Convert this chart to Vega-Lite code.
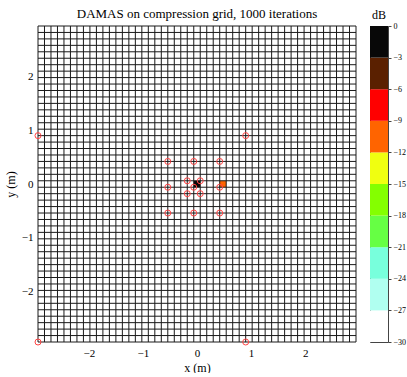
{
  "$schema": "https://vega.github.io/schema/vega-lite/v6.json",
  "padding": {"left": 4, "top": 7, "right": 0, "bottom": 0},
  "background": "white",
  "config": {
    "view": {"stroke": null},
    "font": "Liberation Serif",
    "axis": {
      "labelFont": "Liberation Serif",
      "titleFont": "Liberation Serif",
      "labelFontSize": 11,
      "titleFontSize": 12,
      "titleFontWeight": "normal",
      "labelColor": "black",
      "titleColor": "black",
      "grid": false,
      "domain": false,
      "ticks": false,
      "labelPadding": 5
    },
    "title": {"font": "Liberation Serif", "fontWeight": "normal", "color": "black", "anchor": "middle"}
  },
  "datasets": {
    "grid": [
      {"v": -2.94}, {"v": -2.82}, {"v": -2.7}, {"v": -2.58}, {"v": -2.46}, {"v": -2.34}, {"v": -2.22}, {"v": -2.1}, {"v": -1.98}, {"v": -1.86},
      {"v": -1.74}, {"v": -1.62}, {"v": -1.5}, {"v": -1.38}, {"v": -1.26}, {"v": -1.14}, {"v": -1.02}, {"v": -0.9}, {"v": -0.78}, {"v": -0.66},
      {"v": -0.54}, {"v": -0.42}, {"v": -0.3}, {"v": -0.18}, {"v": -0.06}, {"v": 0.06}, {"v": 0.18}, {"v": 0.3}, {"v": 0.42}, {"v": 0.54},
      {"v": 0.66}, {"v": 0.78}, {"v": 0.9}, {"v": 1.02}, {"v": 1.14}, {"v": 1.26}, {"v": 1.38}, {"v": 1.5}, {"v": 1.62}, {"v": 1.74},
      {"v": 1.86}, {"v": 1.98}, {"v": 2.1}, {"v": 2.22}, {"v": 2.34}, {"v": 2.46}, {"v": 2.58}, {"v": 2.7}, {"v": 2.82}, {"v": 2.94}
    ],
    "cells": [
      {"x": -0.06, "x2": 0.06, "y": -0.06, "y2": 0.06, "db": -1},
      {"x": 0.42, "x2": 0.54, "y": -0.06, "y2": 0.06, "db": -10.5}
    ],
    "mics": [
      {"x": -0.54, "y": 0.42}, {"x": -0.06, "y": 0.42}, {"x": 0.42, "y": 0.42},
      {"x": -0.54, "y": -0.06}, {"x": -0.06, "y": -0.06}, {"x": 0.42, "y": -0.06},
      {"x": -0.54, "y": -0.54}, {"x": -0.06, "y": -0.54}, {"x": 0.42, "y": -0.54},
      {"x": -0.18, "y": 0.06}, {"x": 0.06, "y": 0.06}, {"x": -0.18, "y": -0.18}, {"x": 0.06, "y": -0.18},
      {"x": -2.94, "y": 0.9}, {"x": 0.9, "y": 0.9}, {"x": -2.94, "y": -2.94}, {"x": 0.9, "y": -2.94}
    ],
    "bar": [
      {"lo": -30, "hi": -27, "db": -28.5}, {"lo": -27, "hi": -24, "db": -25.5}, {"lo": -24, "hi": -21, "db": -22.5},
      {"lo": -21, "hi": -18, "db": -19.5}, {"lo": -18, "hi": -15, "db": -16.5}, {"lo": -15, "hi": -12, "db": -13.5},
      {"lo": -12, "hi": -9, "db": -10.5}, {"lo": -9, "hi": -6, "db": -7.5}, {"lo": -6, "hi": -3, "db": -4.5},
      {"lo": -3, "hi": 0, "db": -1.5}
    ]
  },
  "spacing": 12,
  "hconcat": [
    {
      "width": 318,
      "height": 316,
      "title": {"text": "DAMAS on compression grid, 1000 iterations", "fontSize": 13, "offset": 5},
      "layer": [
        {
          "data": {"name": "cells"},
          "mark": {"type": "rect"},
          "encoding": {
            "x": {"field": "x", "type": "quantitative", "title": "x (m)", "scale": {"domain": [-2.94, 2.94], "nice": false, "zero": false}, "axis": {"values": [-2, -1, 0, 1, 2]}},
            "x2": {"field": "x2"},
            "y": {"field": "y", "type": "quantitative", "title": "y (m)", "scale": {"domain": [-2.94, 2.94], "nice": false, "zero": false}, "axis": {"values": [-2, -1, 0, 1, 2]}},
            "y2": {"field": "y2"},
            "color": {
              "field": "db", "type": "quantitative", "legend": null,
              "scale": {"type": "threshold", "domain": [-27, -24, -21, -18, -15, -12, -9, -6, -3],
                "range": ["#ffffff", "#b0fff0", "#78ffdc", "#66ff44", "#84ff00", "#f0ff10", "#ff6400", "#ff0000", "#5a2000", "#080808"]}
            }
          }
        },
        {
          "data": {"name": "grid"},
          "mark": {"type": "rule", "color": "#1a1a1a", "strokeWidth": 1},
          "encoding": {
            "x": {"field": "v", "type": "quantitative", "title": "x (m)", "axis": {"values": [-2, -1, 0, 1, 2]}}
          }
        },
        {
          "data": {"name": "grid"},
          "mark": {"type": "rule", "color": "#1a1a1a", "strokeWidth": 1},
          "encoding": {
            "y": {"field": "v", "type": "quantitative", "title": "y (m)", "axis": {"values": [-2, -1, 0, 1, 2]}}
          }
        },
        {
          "data": {"name": "mics"},
          "mark": {"type": "point", "shape": "circle", "filled": false, "size": 36, "color": "#ff4444", "strokeWidth": 1, "opacity": 1},
          "encoding": {
            "x": {"field": "x", "type": "quantitative", "title": "x (m)", "axis": {"values": [-2, -1, 0, 1, 2]}},
            "y": {"field": "y", "type": "quantitative", "title": "y (m)", "axis": {"values": [-2, -1, 0, 1, 2]}}
          }
        }
      ]
    },
    {
      "width": 18,
      "height": 316,
      "view": {"stroke": "#444", "strokeWidth": 1},
      "title": {"text": "dB", "fontSize": 12, "offset": 0},
      "data": {"name": "bar"},
      "mark": {"type": "rect"},
      "encoding": {
        "y": {"field": "lo", "type": "quantitative", "scale": {"domain": [-30, 0], "nice": false, "zero": false},
          "axis": {"orient": "right", "title": null, "values": [-30, -27, -24, -21, -18, -15, -12, -9, -6, -3, 0], "ticks": true, "tickSize": 3, "tickColor": "#444", "labelFontSize": 8, "labelPadding": 2}},
        "y2": {"field": "hi"},
        "color": {
          "field": "db", "type": "quantitative", "legend": null,
          "scale": {"type": "threshold", "domain": [-27, -24, -21, -18, -15, -12, -9, -6, -3],
            "range": ["#ffffff", "#b0fff0", "#78ffdc", "#66ff44", "#84ff00", "#f0ff10", "#ff6400", "#ff0000", "#5a2000", "#080808"]}
        }
      }
    }
  ],
  "resolve": {"scale": {"color": "shared"}}
}
